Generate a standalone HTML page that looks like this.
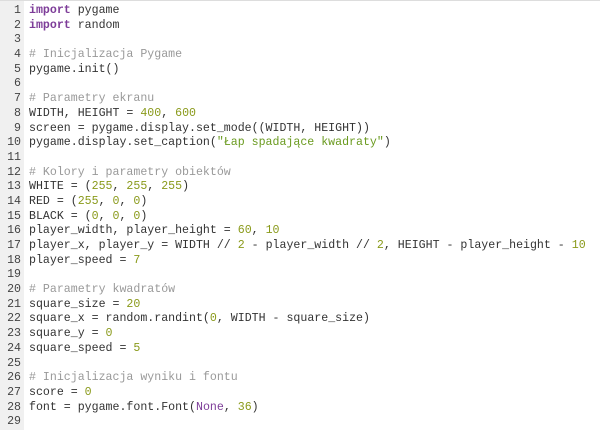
<!DOCTYPE html>
<html><head><meta charset="utf-8">
<style>
html,body{margin:0;padding:0;background:#fff;width:600px;height:430px;overflow:hidden}
.wrap{position:relative;width:600px;height:430px;border-top:1px solid #ddd;box-sizing:border-box}
.gut{position:absolute;left:0;top:0;width:24px;height:430px;background:#f0f0f0}
pre{position:absolute;top:3px;left:0;margin:0;font-family:"Liberation Mono",monospace;font-size:11.6px;line-height:14.68px;color:#333}
.n{display:inline-block;width:21px;text-align:right;color:#444;margin-right:8px}
.k{color:#7d3c98;font-weight:bold}
.c{color:#999}
.d{color:#8a9a1b}
.s{color:#6a9a1f}
</style></head><body><div class="wrap"><div class="gut"></div>
<pre><span class="n">1</span><span class="k">import</span> pygame
<span class="n">2</span><span class="k">import</span> random
<span class="n">3</span>
<span class="n">4</span><span class="c"># Inicjalizacja Pygame</span>
<span class="n">5</span>pygame.init()
<span class="n">6</span>
<span class="n">7</span><span class="c"># Parametry ekranu</span>
<span class="n">8</span>WIDTH, HEIGHT = <span class="d">400</span>, <span class="d">600</span>
<span class="n">9</span>screen = pygame.display.set_mode((WIDTH, HEIGHT))
<span class="n">10</span>pygame.display.set_caption(<span class="s">"Łap spadające kwadraty"</span>)
<span class="n">11</span>
<span class="n">12</span><span class="c"># Kolory i parametry obiektów</span>
<span class="n">13</span>WHITE = (<span class="d">255</span>, <span class="d">255</span>, <span class="d">255</span>)
<span class="n">14</span>RED = (<span class="d">255</span>, <span class="d">0</span>, <span class="d">0</span>)
<span class="n">15</span>BLACK = (<span class="d">0</span>, <span class="d">0</span>, <span class="d">0</span>)
<span class="n">16</span>player_width, player_height = <span class="d">60</span>, <span class="d">10</span>
<span class="n">17</span>player_x, player_y = WIDTH // <span class="d">2</span> - player_width // <span class="d">2</span>, HEIGHT - player_height - <span class="d">10</span>
<span class="n">18</span>player_speed = <span class="d">7</span>
<span class="n">19</span>
<span class="n">20</span><span class="c"># Parametry kwadratów</span>
<span class="n">21</span>square_size = <span class="d">20</span>
<span class="n">22</span>square_x = random.randint(<span class="d">0</span>, WIDTH - square_size)
<span class="n">23</span>square_y = <span class="d">0</span>
<span class="n">24</span>square_speed = <span class="d">5</span>
<span class="n">25</span>
<span class="n">26</span><span class="c"># Inicjalizacja wyniku i fontu</span>
<span class="n">27</span>score = <span class="d">0</span>
<span class="n">28</span>font = pygame.font.Font(<span class="k" style="font-weight:normal">None</span>, <span class="d">36</span>)
<span class="n">29</span>
</pre></div></body></html>
